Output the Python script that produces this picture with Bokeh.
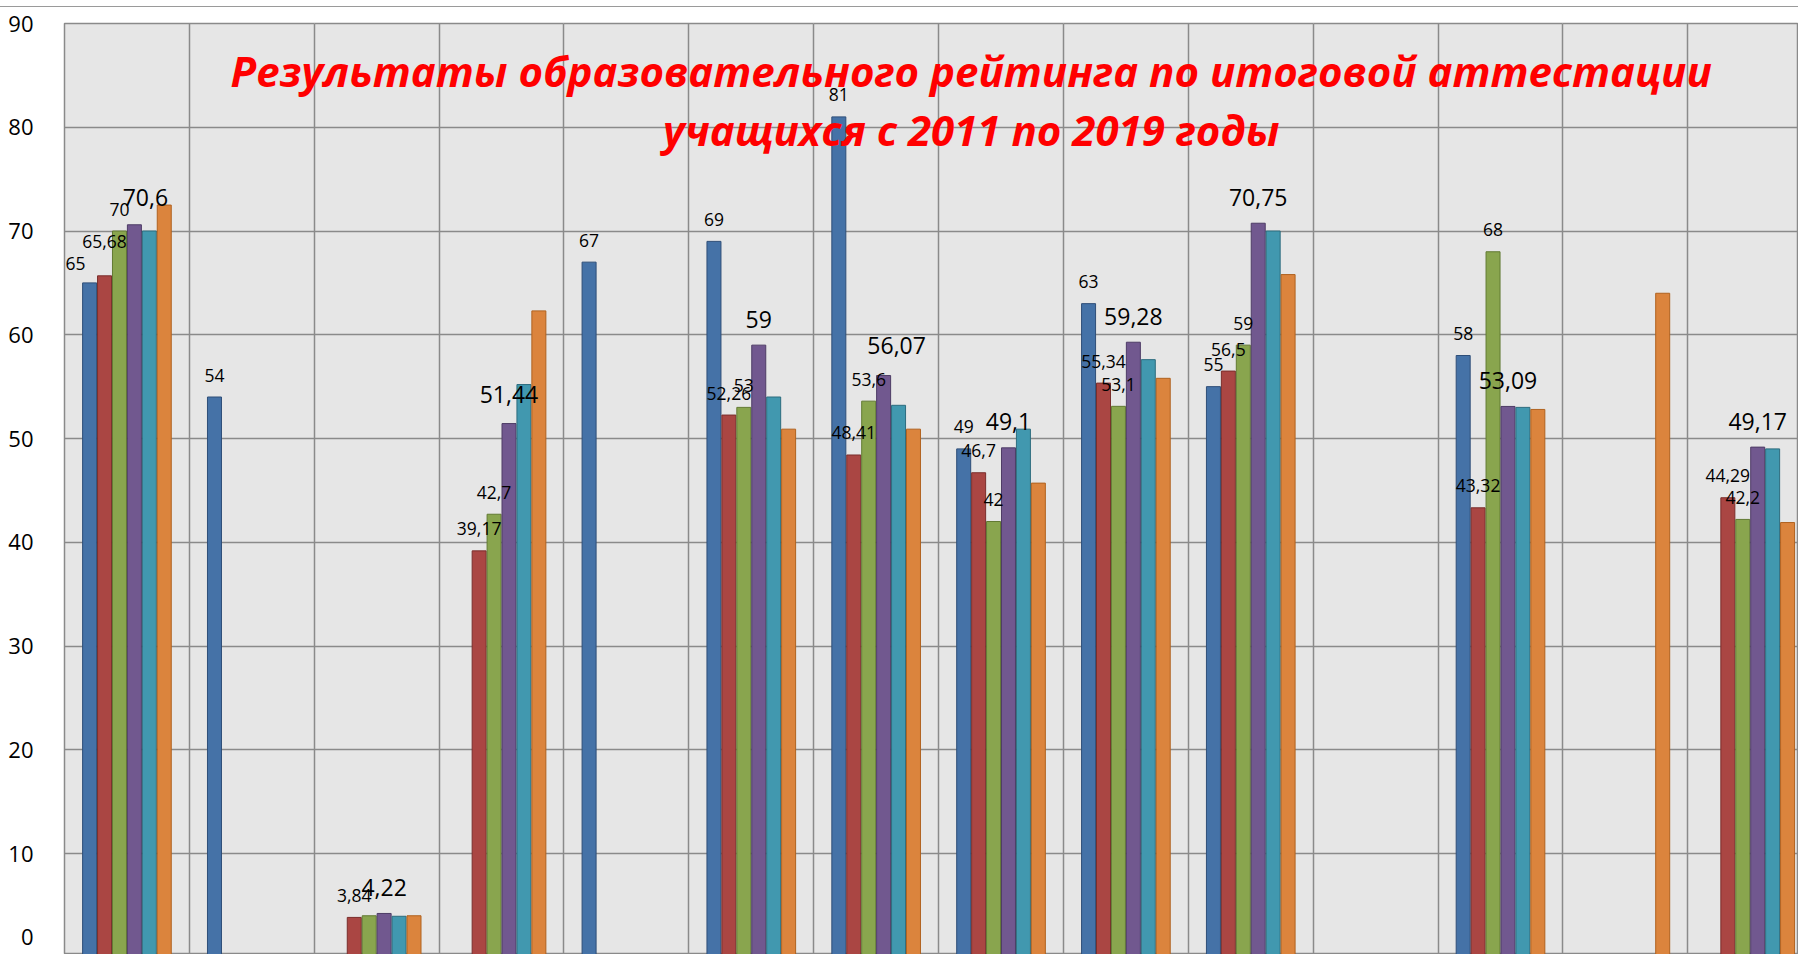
import math
from bokeh.plotting import figure
from bokeh.layouts import column
from bokeh.models import Range1d, FixedTicker, Grid, Label, LabelSet, ColumnDataSource, Div
from bokeh.core.properties import value
from bokeh.embed import file_html
from bokeh.resources import INLINE

NAN = float("nan")

# ---------------- data ----------------
categories = ["1", "2", "3", "4", "5", "6", "7", "8", "9", "10", "11", "12", "13", "14"]
series_names = ["Ряд1", "Ряд2", "Ряд3", "Ряд4", "Ряд5", "Ряд6"]
s1 = [65, 54, NAN, NAN, 67, 69, 81, 49, 63, 55, NAN, 58, NAN, NAN]
s2 = [65.68, NAN, 3.84, 39.17, NAN, 52.26, 48.41, 46.7, 55.34, 56.5, NAN, 43.32, NAN, 44.29]
s3 = [70, NAN, 4.0, 42.7, NAN, 53, 53.6, 42, 53.1, 59, NAN, 68, NAN, 42.2]
s4 = [70.6, NAN, 4.22, 51.44, NAN, 59, 56.07, 49.1, 59.28, 70.75, NAN, 53.09, NAN, 49.17]
s5 = [70.0, NAN, 3.95, 55.2, NAN, 54.0, 53.2, 50.9, 57.6, 70.0, NAN, 53.0, NAN, 49.0]
s6 = [72.5, NAN, 4.0, 62.3, NAN, 50.9, 50.9, 45.7, 55.8, 65.8, NAN, 52.8, 64.0, 41.9]
y_ticks = [0, 10, 20, 30, 40, 50, 60, 70, 80, 90]
title_lines = ["Результаты образовательного рейтинга по итоговой аттестации",
               "учащихся с 2011 по 2019 годы"]

series = [s1, s2, s3, s4, s5, s6]

# ---------------- style ----------------
fills = ["#4572A7", "#AA4643", "#89A54E", "#71588F", "#4198AF", "#DB843D"]
lines = ["#2E4E78", "#7A2E2C", "#627A33", "#4E3C66", "#2C6C7E", "#B0621F"]
labeled = [True, True, True, True, False, False]
big_label = [False, False, False, True, False, False]
skip_labels = {(2, 2)}
# (series, category) -> (dx, dy) pixel offsets of label centre from bar top centre
label_offsets = {(0, 0): (-14, -19), (1, 0): (0, -34), (3, 0): (11, -27),
                 (3, 6): (13, -30), (3, 3): (0, -29)}

W = 1798
TOP_STRIP = 7          # white strip with thin grey rule above the chart
H = 954 - TOP_STRIP
B_L, B_T = 64, 23 - TOP_STRIP
PX_CAT = 124.87
PX_Y = 10.375
X_END = (W - B_L) / PX_CAT
Y_END = 90
Y_START = Y_END - (H - B_T) / PX_Y
STEP = 14.93 / PX_CAT
BAR_W = 14.0 / PX_CAT
GRID = "#8a8a8a"
TICK_FONT = "Open Sans"
TICK_SIZE = "22px"
ZERO_TICK_POS = 2.0    # the zero gridline lies just below the visible area; show its label at the edge

p = figure(width=W, height=H, x_range=Range1d(0, X_END), y_range=Range1d(Y_START, Y_END),
           output_backend="svg", toolbar_location=None, x_axis_location=None,
           min_border_left=B_L, min_border_right=0, min_border_top=B_T, min_border_bottom=0)
p.background_fill_color = "#e6e6e6"
p.border_fill_color = "white"
p.outline_line_color = GRID
p.outline_line_width = 1.5

axis_ticks = [t if t > Y_START else ZERO_TICK_POS for t in y_ticks]
p.yaxis.ticker = FixedTicker(ticks=axis_ticks)
p.yaxis.major_label_overrides = {a: str(t) for a, t in zip(axis_ticks, y_ticks) if a != t}
p.yaxis.axis_line_color = None
p.yaxis.major_tick_line_color = None
p.yaxis.minor_tick_line_color = None
p.yaxis.major_label_standoff = 25
p.yaxis.major_label_text_font = TICK_FONT
p.yaxis.major_label_text_font_size = TICK_SIZE
p.yaxis.major_label_text_color = "#000000"

p.ygrid.ticker = FixedTicker(ticks=y_ticks)
p.ygrid.grid_line_color = GRID
p.ygrid.grid_line_width = 1.5
p.add_layout(Grid(dimension=0, ticker=FixedTicker(ticks=list(range(len(categories) + 1))),
                  grid_line_color=GRID, grid_line_width=1.5))

small = {"x": [], "y": [], "t": []}
large = {"x": [], "y": [], "t": []}


def fmt(v):
    return f"{v:g}".replace(".", ",")


for i, vals in enumerate(series):
    xs, tops = [], []
    for k, v in enumerate(vals):
        if v is None or (isinstance(v, float) and math.isnan(v)):
            continue
        xc = k + 0.5 + (i - 2.5) * STEP
        xs.append(xc)
        tops.append(v)
        if labeled[i] and (i, k) not in skip_labels:
            dx, dy = label_offsets.get((i, k), (0, -26 if big_label[i] else -22))
            d = large if big_label[i] else small
            d["x"].append(xc + dx / PX_CAT)
            d["y"].append(v - dy / PX_Y)
            d["t"].append(fmt(v))
    p.vbar(x=xs, top=tops, bottom=0, width=BAR_W, fill_color=fills[i],
           line_color=lines[i], line_width=1)

for d, size in ((small, "17.5px"), (large, "23px")):
    src = ColumnDataSource(dict(x=d["x"], y=d["y"], t=d["t"]))
    p.add_layout(LabelSet(x="x", y="y", text="t", source=src, text_align="center",
                          text_baseline="middle", text_font=value("Open Sans"),
                          text_font_size=value(size), text_color="#000000"))

title_x = (970.7 - B_L) / PX_CAT
for j, (line, base_px) in enumerate(zip(title_lines, [70, 129])):
    p.add_layout(Label(x=title_x, y=Y_END - (base_px - 23) / PX_Y, text=line,
                       text_align="center", text_baseline="alphabetic",
                       text_font="Open Sans", text_font_style="bold italic",
                       text_font_size="42px", text_color="#ff0000"))

rule = Div(text="", width=W, height=TOP_STRIP, margin=0,
           styles={"border-bottom": "1.5px solid #9a9a9a", "box-sizing": "border-box"})

layout = column(rule, p, spacing=0, margin=0)
open("out.html", "w").write(file_html(layout, INLINE))
